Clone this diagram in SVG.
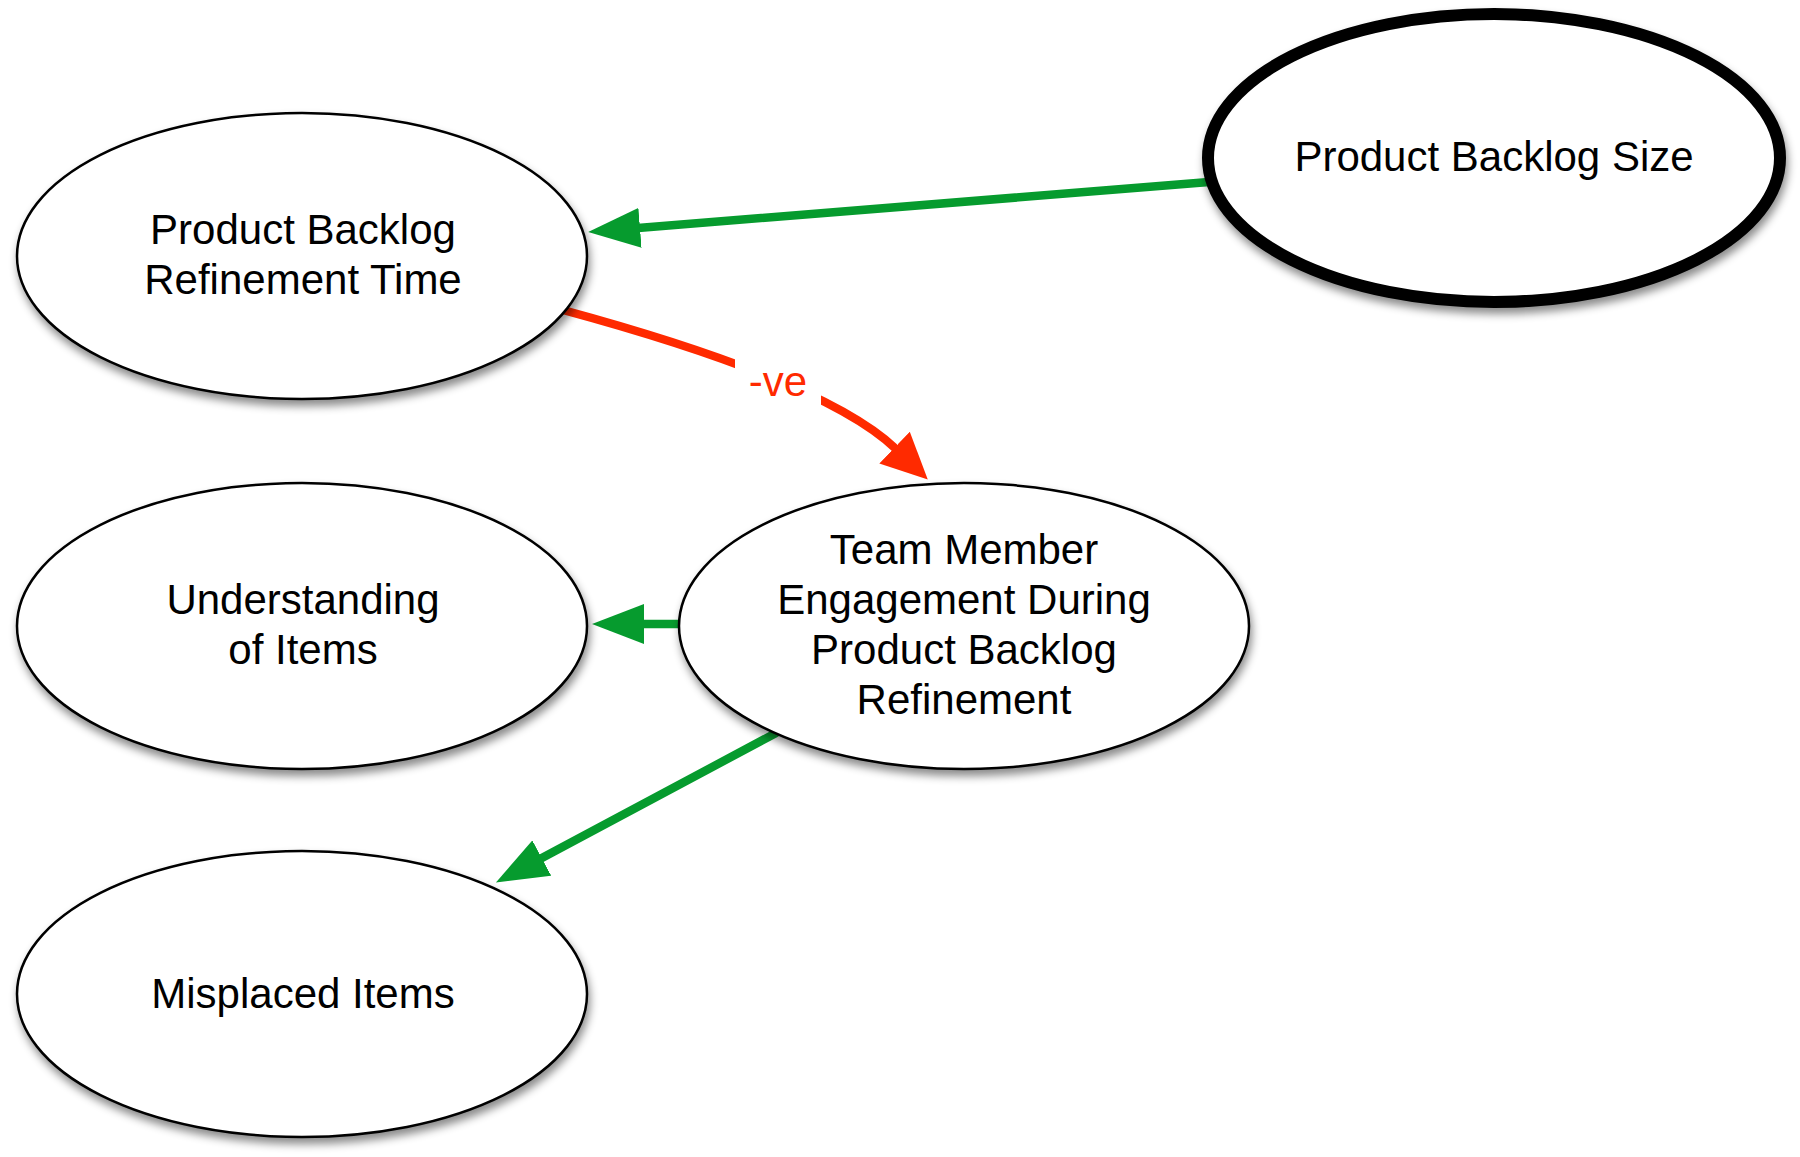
<svg xmlns="http://www.w3.org/2000/svg" width="1800" height="1157" viewBox="0 0 1800 1157">
<style>
.node ellipse{fill:#fff;stroke:#000;stroke-width:2.5;filter:url(#sh)}
.node.thick ellipse{stroke-width:12}
text{font-family:"Liberation Sans",Arial,sans-serif;font-size:42px;text-anchor:middle;fill:#000}
.g{fill:none;stroke:#069b2e;stroke-width:8.5;stroke-linecap:round}
.r{fill:none;stroke:#ff2a00;stroke-width:8.5;stroke-linecap:round}
.lbl{fill:#ff2a00}
</style>
<defs>
<filter id="sh" x="-10%" y="-10%" width="125%" height="130%">
<feDropShadow dx="2" dy="6" stdDeviation="4" flood-color="#000" flood-opacity="0.45"/>
</filter>
<marker id="ag" markerUnits="userSpaceOnUse" markerWidth="54" markerHeight="40" refX="2" refY="20" orient="auto" viewBox="0 0 54 40">
<path d="M0,0 L52,20 L0,40 z" fill="#069b2e"/>
</marker>
<marker id="ar" markerUnits="userSpaceOnUse" markerWidth="54" markerHeight="44" refX="2" refY="22" orient="auto" viewBox="0 0 54 44">
<path d="M0,0 L46,22 L0,44 z" fill="#ff2a00"/>
</marker>
</defs>
<rect width="1800" height="1157" fill="#fff"/>
<g id="connectors">
<path class="g" d="M1209,182 L638,228" marker-end="url(#ag)"/>
<path class="g" d="M680,624 L642,624" marker-end="url(#ag)"/>
<path class="g" d="M776,733 L540,859" marker-end="url(#ag)"/>
<path class="r" d="M563,310 Q825,381 896,449" marker-end="url(#ar)"/>
<rect x="735" y="355" width="86" height="60" fill="#fff"/>
<text class="lbl" x="778" y="396">-ve</text>
</g>
<g id="node-pbrt" class="node">
<ellipse cx="302" cy="256" rx="285" ry="143"/>
<text x="303" y="244">Product Backlog</text>
<text x="303" y="294">Refinement Time</text>
</g>
<g id="node-pbs" class="node thick">
<ellipse cx="1494" cy="158" rx="286" ry="144"/>
<text x="1494" y="171">Product Backlog Size</text>
</g>
<g id="node-und" class="node">
<ellipse cx="302" cy="626" rx="285" ry="143"/>
<text x="303" y="614">Understanding</text>
<text x="303" y="664">of Items</text>
</g>
<g id="node-tm" class="node">
<ellipse cx="964" cy="626" rx="285" ry="143"/>
<text x="964" y="564">Team Member</text>
<text x="964" y="614">Engagement During</text>
<text x="964" y="664">Product Backlog</text>
<text x="964" y="714">Refinement</text>
</g>
<g id="node-mis" class="node">
<ellipse cx="302" cy="994" rx="285" ry="143"/>
<text x="303" y="1008">Misplaced Items</text>
</g>
</svg>
